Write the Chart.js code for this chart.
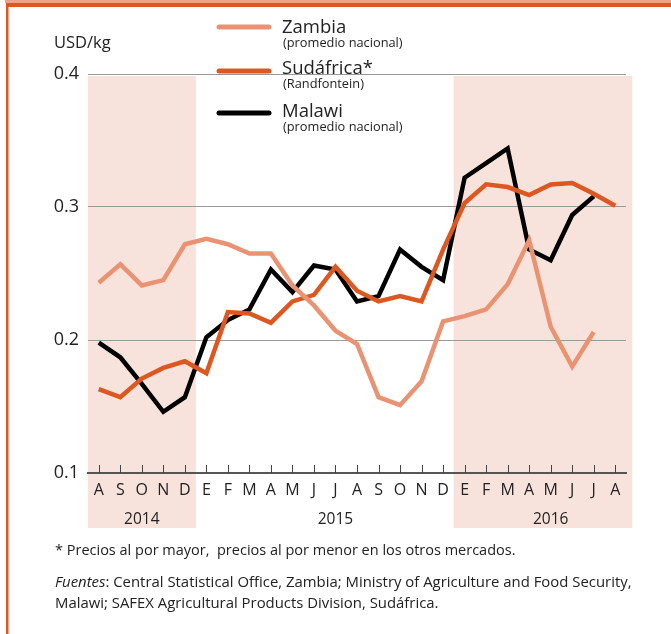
<!DOCTYPE html>
<html>
<head>
<meta charset="utf-8">
<script src="https://cdn.jsdelivr.net/npm/chart.js@4.4.1/dist/chart.umd.min.js"></script>
<style>
  html, body { margin: 0; padding: 0; background: #fff; }
  #wrap { position: relative; width: 671px; height: 634px; overflow: hidden; }
  #myChart { position: absolute; left: 0; top: 0; }
  .note { position: absolute; left: 55px; font-family: "Open Sans", sans-serif; color: #222; white-space: nowrap; }
</style>
</head>
<body>
<div id="wrap">
  <canvas id="myChart" width="671" height="634"></canvas>
  <div class="note" style="top:540px; font-size:14.5px;">* Precios al por mayor,&nbsp; precios al por menor en los otros mercados.</div>
  <div class="note" style="top:571px; font-size:14.9px; line-height:21px;"><i>Fuentes</i>: Central Statistical Office, Zambia; Ministry of Agriculture and Food Security,<br>Malawi; SAFEX Agricultural Products Division, Sudáfrica.</div>
</div>
<script>
const months = ['A','S','O','N','D','E','F','M','A','M','J','J','A','S','O','N','D','E','F','M','A','M','J','J','A'];
const years = ['2014', '2015', '2016'];
const yearCenter = [2, 11, 21];           // category index under which each year label sits
const yearShade = [[0, 4], null, [17, 24]]; // shaded months (first, last index)

const zambia    = [0.243,0.257,0.241,0.245,0.272,0.276,0.272,0.265,0.265,0.241,0.226,0.207,0.197,0.157,0.151,0.169,0.214,0.218,0.223,0.242,0.275,0.210,0.180,0.206,null];
const sudafrica = [0.163,0.157,0.171,0.179,0.184,0.175,0.221,0.220,0.213,0.229,0.234,0.255,0.237,0.229,0.233,0.229,0.268,0.303,0.317,0.315,0.309,0.317,0.318,0.310,0.301];
const malawi    = [0.198,0.187,0.167,0.146,0.157,0.202,0.215,0.223,0.253,0.236,0.256,0.253,0.229,0.233,0.268,0.255,0.245,0.322,0.333,0.344,0.268,0.260,0.294,0.308,null];

const seriesNames = ['Zambia', 'Sudáfrica*', 'Malawi'];
const seriesSub = ['(promedio nacional)', '(Randfontein)', '(promedio nacional)'];
const colors = ['#ea9373', '#dd5720', '#000000'];

const FONT = '"Open Sans", sans-serif';
const ctx = document.getElementById('myChart');

const decor = {
  id: 'decor',
  beforeDraw(chart) {
    const c = chart.ctx, x = chart.scales.x, area = chart.chartArea;
    c.save();
    c.fillStyle = '#f8e3dc';
    yearShade.forEach(s => {
      if (!s) return;
      let l = x.getPixelForValue(s[0]) - 11;
      let r = x.getPixelForValue(s[1]) + 11;
      if (s[1] == months.length - 1) r += 6;
      c.fillRect(l, area.top + 2, r - l, 528 - area.top - 2);
    });
    c.restore();
  },
  afterDraw(chart) {
    const c = chart.ctx, x = chart.scales.x, area = chart.chartArea;
    c.save();
    // upward tick marks
    c.strokeStyle = '#444';
    c.lineWidth = 1;
    months.forEach((m, i) => {
      const px = Math.round(x.getPixelForValue(i)) + 0.5;
      c.beginPath();
      c.moveTo(px, area.bottom - 8);
      c.lineTo(px, area.bottom);
      c.stroke();
    });
    // years
    c.fillStyle = '#222';
    c.font = '15.5px ' + FONT;
    c.textAlign = 'center';
    c.textBaseline = 'alphabetic';
    years.forEach((y, i) => c.fillText(y, x.getPixelForValue(yearCenter[i]), 524));
    // unit
    c.textAlign = 'left';
    c.font = '16.5px ' + FONT;
    c.fillText('USD/kg', 54, 48);
    // legend
    const ly = [27, 71, 113];
    const by = [33, 74, 117];
    seriesNames.forEach((n, i) => {
      c.strokeStyle = colors[i];
      c.lineWidth = 5;
      c.lineCap = 'round';
      c.beginPath();
      c.moveTo(219, ly[i]);
      c.lineTo(269, ly[i]);
      c.stroke();
      c.fillStyle = '#222';
      c.font = '18.5px ' + FONT;
      c.fillText(n, 282, by[i]);
      c.font = '12.8px ' + FONT;
      c.fillText(seriesSub[i], 283, by[i] + 14);
    });
    // frame
    c.fillStyle = '#eea386';
    c.fillRect(5, 0, 666, 3);
    c.fillStyle = '#dd5720';
    c.fillRect(6, 3, 665, 4);
    c.fillRect(6, 3, 2.5, 631);
    c.restore();
  }
};

const chart = new Chart(ctx, {
  type: 'line',
  data: {
    labels: months,
    datasets: [
      { label: seriesNames[0], data: zambia, borderColor: colors[0], order: 0 },
      { label: seriesNames[1], data: sudafrica, borderColor: colors[1], order: 1 },
      { label: seriesNames[2], data: malawi, borderColor: colors[2], order: 2 }
    ]
  },
  options: {
    responsive: false,
    animation: false,
    layout: { padding: { top: 74, right: 45, bottom: 0, left: 0 } },
    elements: {
      line: { borderWidth: 4.5, tension: 0, fill: false },
      point: { radius: 0, hoverRadius: 0 }
    },
    plugins: {
      legend: { display: false },
      tooltip: { enabled: false },
      title: { display: false }
    },
    scales: {
      x: {
        type: 'category',
        offset: true,
        grid: { display: false, drawTicks: false },
        border: { display: true, color: '#555', width: 2 },
        ticks: {
          autoSkip: false,
          maxRotation: 0,
          padding: 8,
          color: '#222',
          font: { family: FONT, size: 16 }
        },
        afterFit: (scale) => { scale.height = 161; }
      },
      y: {
        min: 0.1,
        max: 0.4,
        grid: {
          drawTicks: false,
          lineWidth: 1,
          color: (c) => (c.tick && c.tick.value < 0.15) ? 'rgba(0,0,0,0)' : '#9a9a9a'
        },
        border: { display: false },
        ticks: {
          stepSize: 0.1,
          padding: 9,
          color: '#222',
          font: { family: FONT, size: 18 },
          callback: (v) => v.toFixed(1)
        },
        afterFit: (scale) => { scale.width = 88; }
      }
    }
  },
  plugins: [decor]
});
</script>
</body>
</html>
